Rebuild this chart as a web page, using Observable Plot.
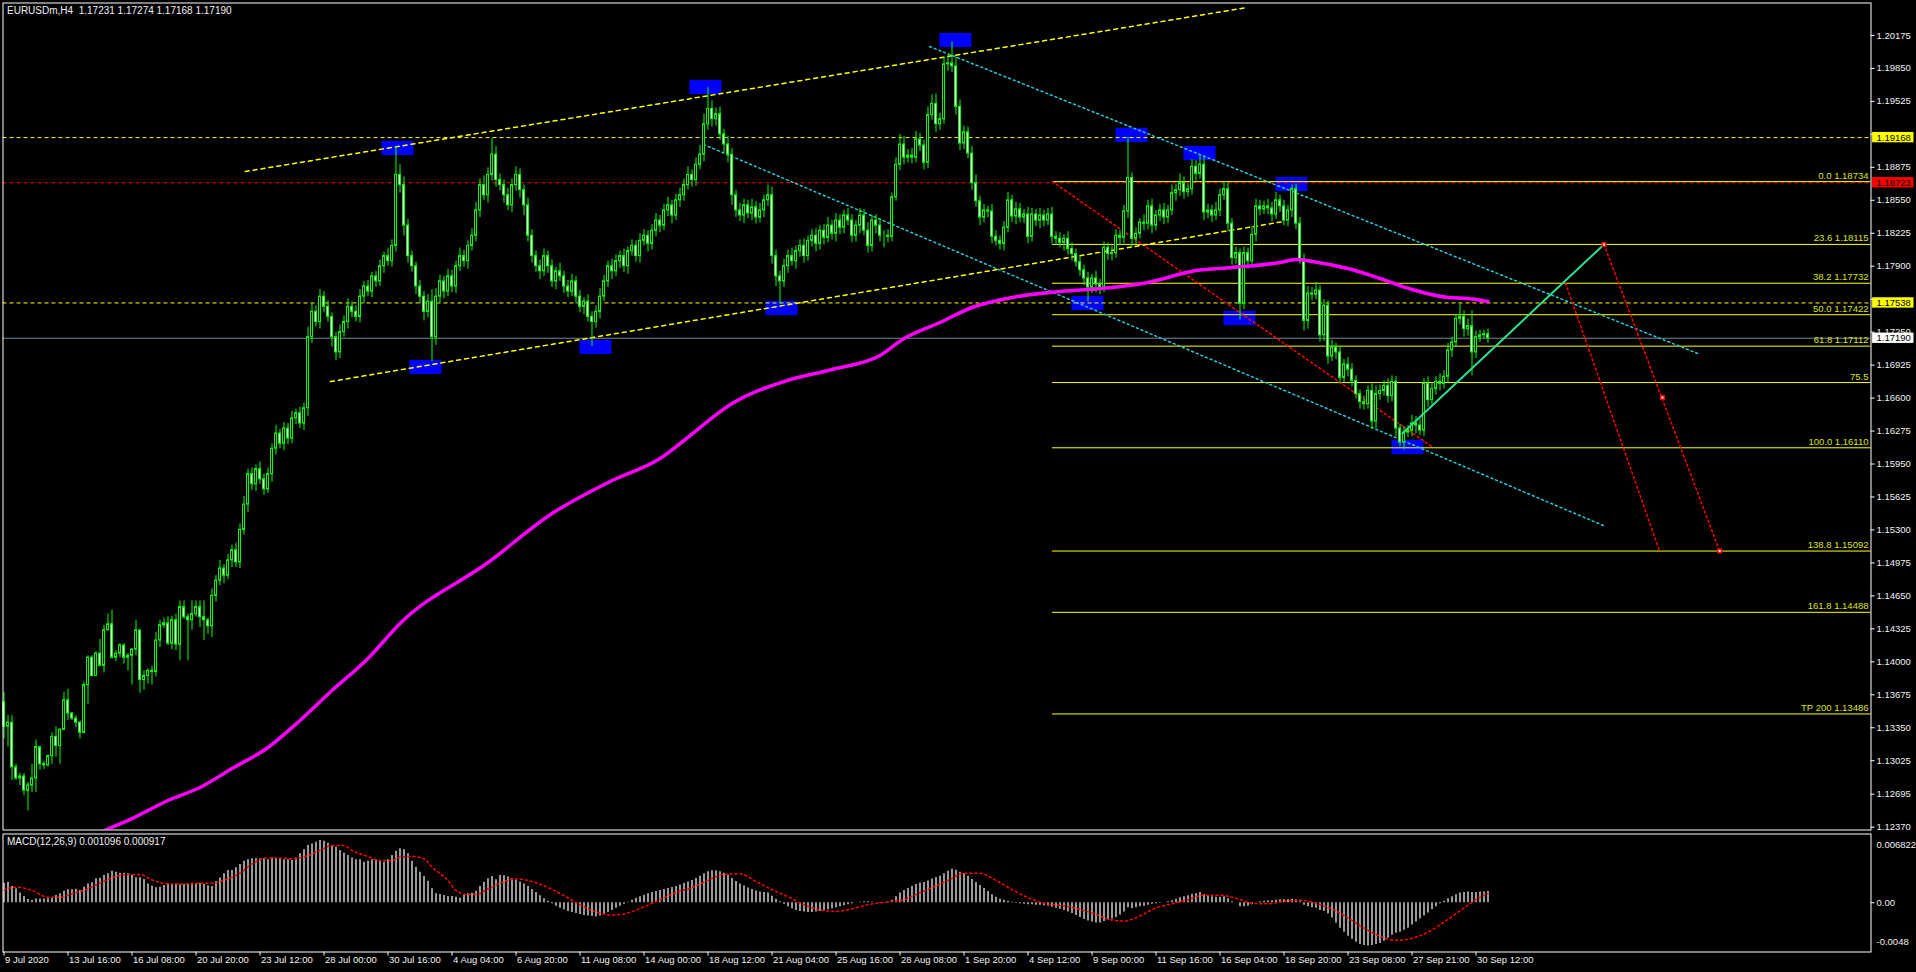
<!DOCTYPE html>
<html><head><meta charset="utf-8">
<script src="https://cdn.jsdelivr.net/npm/d3@7"></script>
<script src="https://cdn.jsdelivr.net/npm/@observablehq/plot@0.6"></script>
<style>
html,body{margin:0;padding:0;background:#000;}
#wrap{position:relative;width:1916px;height:972px;background:#000;overflow:hidden;font-family:"Liberation Sans",Arial,sans-serif;}
#main{position:absolute;left:0;top:0;}
#macd{position:absolute;left:0;top:832px;}
.lbl{position:absolute;color:#f0f0f0;font-size:10px;line-height:11px;white-space:pre;}
</style></head><body>
<div id="wrap"><div id="main"></div><div id="macd"></div>
<div class="lbl" style="left:7px;top:5px">EURUSDm,H4  1.17231 1.17274 1.17168 1.17190</div>
<div class="lbl" style="left:7px;top:836px">MACD(12,26,9) 0.001096 0.000917</div>
</div>
<script>
// ---------- DATA (prices in pips above 1.0000: 1336 -> 1.1336) ----------
const firstOpen = 1360;
const closeP = [
1336,1340,1296,1285,1287,1273,1278,1285,1316,1299,1298,1307,1326,1317,1333,1362,1349,1344,1340,1330,1377,1404,1386,1408,1396,1431,1437,1404,1408,1416,1404,1406,1412,1431,1382,1386,1391,1390,1421,1436,1438,1418,1441,1417,1454,1444,1441,1447,1454,1444,1441,1435,1465,
1480,1492,1485,1500,1510,1498,1530,1555,1585,1575,1590,1580,1570,1585,1610,1625,1615,1630,1620,1640,1645,1635,1650,1720,1745,1735,1760,1750,1740,1720,1705,1725,1735,1750,1745,1740,1760,1770,1765,1780,1775,1790,1800,1795,1810,1880,1870,1830,1800,1790,1770,1760,1745,1755,1720,1760,1775,1765,1780,1770,1790,1800,1795,1810,1820,1845,1870,1860,1880,1900,1875,1870,1860,1850,1870,1880,1865,1850,1820,1800,1790,1785,1800,1790,1775,1785,1780,1770,1765,1775,1760,1750,1755,1740,1735,1745,1760,1775,1790,1785,1795,1800,1790,1805,1810,1800,1815,1820,1812,1825,1835,1830,1845,1850,1840,1855,1860,1870,1880,1875,1890,1900,1930,1945,1935,1940,1920,1910,1900,1860,1845,1840,1850,1842,1848,1838,1845,1855,1860,1800,1780,1775,1790,1800,1795,1805,1810,1800,1815,1820,1812,1825,1818,1830,1822,1835,1828,1840,1835,1820,1830,1840,1825,1810,1835,1830,1820,
1820,1819,1858,1890,1910,1897,1899,1897,1915,1909,
1892,1939,1950,1930,1935,1989,1990,1987,1947,1911,
1922,1901,1872,1854,1838,1845,1844,1819,1815,1812,
1828,1855,1839,1846,1838,1841,1819,1841,1835,1840,
1835,1841,1819,1817,1813,1817,1807,1802,1794,1786,
1778,1769,1778,1772,1769,1808,1802,1803,1820,1818,
1844,1877,1817,1822,1833,1832,1849,1830,1840,1845,
1838,1845,1862,1865,1872,1863,1866,1888,1881,1890,
1843,1845,1840,1845,1860,1866,1832,1798,1803,1753,
1803,1795,1821,1849,1846,1849,1847,1841,1855,1849,
1835,1845,1866,1832,1797,1736,1763,1762,1766,1722,
1751,1701,1710,1705,1680,1693,1688,1677,1664,1656,
1654,1667,1637,1664,1667,1672,1662,1676,1630,1616,
1626,1628,1635,1633,1628,1674,1658,1669,1676,1674,
1681,1707,1715,1738,1740,1728,1731,1705,1720,1722,
1723,1719];
const upWick = [
10,7,7,3,3,3,3,14,7,0,3,1,4,10,1,8,11,1,3,1,3,2,2,2,14,5,10,14,3,2,2,2,1,10,0,5,2,5,8,5,5,6,4,6,6,6,3,13,6,6,16,2,7,
5,8,4,6,5,7,6,8,5,6, 4,7,5,6,5,8,4,6,5,7, 4,6,5,10,8,6,7,5,6,4, 5,7,6,8,5,6,7,5,6,4, 5,6,4,7,6,28,10,8,6,5,
4,6,5,7,12,8,6,5,7,6, 5,8,6,5,7,8,6,9,7,16, 8,6,5,7,6,8,6,5,7,6, 5,6,7,5,6,4,8,5,6,7, 5,6,4,7,5,6,8,6,5,7,
6,5,7,4,6,5,7,6,5,6, 7,5,6,8,5,6,7,6,8,5, 7,9,10,21,8,6,7,5,8,6, 5,7,6,5,8,6,7,5,10,8, 6,5,7,6,8,5,6,7,5,6,
7,5,6,8,5,7,6,5,7,6, 5,7,6,8,5,6,7,
5,6,4,7,10,8,6,7,8,6, 5,8,9,10,6,7,8,21,9,7, 6,5,7,8,5,6,4,7,6,5, 6,8,5,7,6,5,7,6,5,7, 5,6,7,5,6,4,7,6,5,6,
5,6,4,7,5,6,5,7,6,5, 6,40,5,6,4,8,6,7,5,6, 7,5,8,6,9,6,5,7,6,10, 7,6,5,8,6,7,6,5,6,4, 6,5,8,7,6,5,7,6,8,5,
6,5,4,5,6,5,7,6,8,5, 6,5,7,4,6,5,7,6,5,4, 6,5,7,8,6,5,7,6,5,4, 6,5,8,7,6,5,7,6,5,8, 6,7,5,4,13,6,7,15,6,5, 4,5];
const loWick = [
12,20,13,2,7,5,20,7,14,6,4,2,8,11,18,1,7,2,5,6,1,19,1,0,1,7,0,1,4,4,6,13,29,6,13,10,8,13,5,7,3,2,6,6,16,2,40,10,3,10,20,8,11,
6,5,8,4,7,5,6,5,8,6, 7,5,6,4,8,6,5,7,6,5, 6,5,7,8,6,5,7,6,5,10, 8,6,5,7,6,5,6,7,5,6, 6,5,7,5,6,6,8,10,7,6,
8,7,9,6,24,8,6,7,5,6, 7,5,6,8,5,6,7,5,8,6, 7,6,8,5,7,6,8,10,6,7, 6,8,5,7,6,8,5,7,6,5, 7,6,8,5,24,6,7,5,6,8,
5,7,6,8,5,6,7,5,8,6, 6,7,5,6,8,5,7,6,5,7, 6,5,7,6,8,7,6,9,8,10, 7,6,8,5,7,6,5,7,6,8, 10,22,6,7,5,8,6,7,5,6,
8,6,7,5,6,8,7,6,5,7, 6,8,5,7,6,8,6,
12,6,5,4,6,7,5,6,5,6, 7,6,5,8,6,5,7,6,8,7, 6,5,7,6,8,5,6,7,5,6, 7,5,6,8,5,6,7,5,6,8, 6,5,7,6,5,8,6,7,5,6,
7,14,6,8,7,5,6,7,5,8, 6,7,8,6,5,7,6,8,5,6, 7,6,5,8,6,7,5,6,7,5, 8,6,7,5,6,5,8,7,6,16, 6,8,5,7,6,5,6,7,5,6,
5,6,7,6,5,10,8,6,5,7, 6,8,5,7,6,5,7,6,5,7, 6,5,8,7,6,5,7,6,8,4, 7,5,6,8,5,6,7,5,6,7, 5,6,7,5,6,8,7,23,6,5, 4,5];

// MACD main histogram, units of 0.00001
const macdV = [
193,203,160,137,95,62,32,22,36,36,36,39,45,72,88,114,127,127,134,121,154,186,196,236,242,269,285,311,301,291,291,285,269,246,246,229,186,163,147,154,170,186,180,186,177,180,186,193,186,193,180,167,160,
209,245,285,318,318,344,377,410,423,433, 433,433,433,423,442,433,433,423,423,416, 442,482,521,564,580,597,613,606,587,564,
547,514,488,465,442,423,423,400,410,423, 423,410,400,423,465,508,531,521,482,410, 350,301,258,212,137,88,81,71,61,61,
55,45,71,88,94,114,160,203,236,258, 226,268,
265,255,240,225,205,185,160,130,100,70,40,
15,-10,-35,-55,-70,-85,-95,-105,-115,-125,-130,-135,-140,-130,-115,
-95,-75,-55,-35,-15,5,25,45,60,75,90,100,110,120,130,
140,150,160,175,190,205,220,240,260,285,305,315,315,305,290,
270,240,210,185,165,145,130,115,105,100,95,65,35,10,-15,
-40,-60,-75,-85,-90,-95,-95,-90,-85,-80,-70,-60,-50,-40,-30,
-20,-10,0,5,10,10,5,0,-5,
0,5,25,60,95,120,140,160,180,195,200,215,235,250,260,285,310,330,320,300,285,
260,230,200,170,140,110,80,55,35,25,15,5,-5,-10,-15,-20,-20,-25,-25,-30,
-35,-45,-55,-65,-75,-90,-105,-125,-145,-165,-180,-190,-200,-200,-185,
-170,-160,-145,-120,-90,-50,-60,-50,-40,-35,-25,-15,-10,-5,0,
10,20,35,50,60,70,85,90,100,80,70,60,55,55,60,
40,10,0,-40,-40,-35,-20,0,10,15,20,20,25,30,30,
30,35,30,10,-25,-40,-50,-55,-75,-85,
-110,-150,-200,-250,-290,-330,-360,-390,-410,-420,-425,-420,-410,-400,-380,
-350,-320,-300,-290,-270,-250,-220,-190,-160,-130,-100,-70,-40,-10,15,40,60,80,95,100,105,100,100,105,105,110];
// MACD signal line (read at these bars), units of 0.00001
const sigBar = [0,3,7,11,14,17,21,24,27,31,34,37,41,46,49,52,56,59,62,66,70,72,76,79,82,85,87,91,94,97,99,102,105,107,111,113,116,118,121,124,
128,132,136,140,144,148,152,156,160,164,168,172,176,180,184,188,192,196,200,204,208,212,216,220,224,228,232,236,240,244,248,252,256,260,264,268,272,276,280,284,288,292,296,300,304,308,312,316,320,324,328,332,336,340,344,348,352,356,360,364,368,371];
const sigV = [127,154,121,55,55,88,137,193,245,278,278,226,186,186,193,193,236,291,383,442,439,433,465,515,564,564,515,456,416,416,449,456,433,351,219,121,81,81,137,193,
235,210,150,70,-20,-90,-120,-100,-40,30,100,150,220,280,285,210,130,60,-20,-70,-85,-60,-20,5,20,80,150,220,290,290,220,130,50,-5,-25,-55,-100,-160,-180,-130,-50,-10,30,75,75,45,-5,-10,15,25,-5,-60,-150,-250,-330,-370,-350,-290,-190,-80,30,92];

// Moving average (magenta), read at these bars
const maBar = [25,32,41,49,57,66,74,82,91,99,121,137,152,164,170,182,195,207,219,225,234,242,252,264,277,286,298,307,319,323,327,336,344,352,361,366,371];
const maPrice = [1.12337,1.12455,1.12633,1.12761,1.12948,1.13155,1.13422,1.13717,1.14033,1.14378,1.14979,1.15462,1.15787,1.16004,1.16182,1.16547,1.16763,1.16882,1.17020,1.17187,1.17345,1.17493,1.17592,1.17651,1.17690,1.17740,1.17858,1.17887,1.17937,1.17966,1.17947,1.17877,1.17779,1.17670,1.17592,1.17582,1.17552];

// Swing boxes
const boxBars = [98.5,105.5,148,175.5,194.5,238,271,282,299,309,322,351];
const boxPrices = [1.19061,1.16902,1.17099,1.19662,1.17483,1.20125,1.17532,1.19189,1.19011,1.17384,1.18706,1.16113];

// Horizontal levels
const yellowLevels = [1.19168, 1.17538];
const redLevels = [1.18723];
const bidLevels = [1.17190];

// Fibonacci
const fibAnchorBars = [262.1, 357.4];
const fibAnchorPrices = [1.18734, 1.16110];
const fibPrices = [1.18734,1.18115,1.17732,1.17422,1.17112,1.16753,1.16110,1.15092,1.14488,1.13486];
const fibText = ["0.0 1.18734","23.6 1.18115","38.2 1.17732","50.0 1.17422","61.8 1.17112","75.5","100.0 1.16110","138.8 1.15092","161.8 1.14488","TP 200 1.13486"];

// Trend lines
const chanUpBars = [60.3, 310.9], chanUpPrices = [1.18834, 1.20451];
const chanLoBars = [81.6, 319.9], chanLoPrices = [1.16763, 1.18341];
const cyUpBars = [231.4, 423.4], cyUpPrices = [1.20066, 1.17040];
const cyLoBars = [174.9, 400.4], cyLoPrices = [1.19100, 1.15334];
const greenBars = [349.6, 400], greenPrices = [1.16251, 1.18115];
const proj1Bars = [400, 428.9], proj1Prices = [1.18115, 1.15092];
const proj2Bars = [390.4, 413.9], proj2Prices = [1.17732, 1.15092];
const markBars = [400, 414.6, 428.9], markPrices = [1.18115, 1.16606, 1.15092];

// Axes
const priceTicks = [1.20175,1.19850,1.19525,1.19200,1.18875,1.18550,1.18225,1.17900,1.17575,1.17250,1.16925,1.16600,1.16275,1.15950,1.15625,1.15300,1.14975,1.14650,1.14325,1.14000,1.13675,1.13350,1.13025,1.12695,1.12370];
const timeTickBars = [0,16,32,48,64,80,96,112,128,144,160,176,192,208,224,240,256,272,288,304,320,336,352,368];
const timeLabels = ["9 Jul 2020","13 Jul 16:00","16 Jul 08:00","20 Jul 20:00","23 Jul 12:00","28 Jul 00:00","30 Jul 16:00","4 Aug 04:00","6 Aug 20:00","11 Aug 08:00","14 Aug 00:00","18 Aug 12:00","21 Aug 04:00","25 Aug 16:00","28 Aug 08:00","1 Sep 20:00","4 Sep 12:00","9 Sep 00:00","11 Sep 16:00","16 Sep 04:00","18 Sep 20:00","23 Sep 08:00","27 Sep 21:00","30 Sep 12:00"];
const macdAxisTop = 0.006822, macdAxisBottom = -0.0048;

// ---------- BUILD ----------
const W = 1916, X0 = 2.5, XR = 1870.5;
const xDom = [-0.25, (XR - X0) / 4 - 0.25];
const xEnd = xDom[1];
const candles = closeP.map((c, i) => {
  const o = i === 0 ? firstOpen : closeP[i - 1];
  return {i, o: 1 + o / 1e4, c: 1 + c / 1e4,
    h: 1 + (Math.max(o, c) + upWick[i]) / 1e4,
    l: 1 + (Math.min(o, c) - loWick[i]) / 1e4, bull: c >= o};
});
const pts = (bs, ps) => bs.map((b, i) => ({b, p: ps[i]}));
const txt = "#f0f0f0";
const fontStyle = {background: "transparent", fontFamily: "Liberation Sans, Arial, sans-serif", fontSize: "9.5px"};
// tick labels fully hidden behind a price tag are not drawn
const tagged = [...yellowLevels, ...redLevels, ...bidLevels];
const visibleTicks = priceTicks.filter(t => !tagged.some(p => Math.abs(p - t) < 0.0005));

const main = Plot.plot({
  width: W, height: 832, marginLeft: X0, marginRight: W - XR, marginTop: 2.5, marginBottom: 2.5,
  x: {domain: xDom, axis: null},
  y: {domain: [1.12342, 1.20495], axis: null},
  style: fontStyle,
  marks: [
    Plot.rect(pts(boxBars, boxPrices), {x1: d => d.b - 4, x2: d => d.b + 4, y1: d => d.p - 0.0007, y2: d => d.p + 0.0007, fill: "#0000ff"}),
    Plot.ruleY(yellowLevels, {stroke: "#ffff00", strokeDasharray: "4,3"}),
    Plot.ruleY(redLevels, {stroke: "#ff0000", strokeDasharray: "4,3"}),
    Plot.ruleY(bidLevels, {stroke: "#778899"}),
    Plot.ruleY(fibPrices, {x1: fibAnchorBars[0], x2: xEnd, stroke: "#ffff00"}),
    Plot.text(fibPrices, {x: xEnd, y: d => d, text: (d, i) => fibText[i], textAnchor: "end", dx: -2.5, dy: -6, fill: "#dde21b"}),
    Plot.line(pts(fibAnchorBars, fibAnchorPrices), {x: "b", y: "p", stroke: "#ff0000", strokeDasharray: "2,3"}),
    Plot.line(pts(chanUpBars, chanUpPrices), {x: "b", y: "p", stroke: "#ffff00", strokeDasharray: "4,4"}),
    Plot.line(pts(chanLoBars, chanLoPrices), {x: "b", y: "p", stroke: "#ffff00", strokeDasharray: "4,4"}),
    Plot.line(pts(cyUpBars, cyUpPrices), {x: "b", y: "p", stroke: "#2bc6d8", strokeDasharray: "2,3"}),
    Plot.line(pts(cyLoBars, cyLoPrices), {x: "b", y: "p", stroke: "#2bc6d8", strokeDasharray: "2,3"}),
    Plot.ruleX(candles, {x: "i", y1: "l", y2: "h", stroke: "#00ff00"}),
    Plot.rect(candles, {filter: d => d.bull, x1: d => d.i - 0.25, x2: d => d.i + 0.25, y1: "o", y2: "c", fill: "#000", stroke: "#00ff00"}),
    Plot.rect(candles, {filter: d => !d.bull, x1: d => d.i - 0.25, x2: d => d.i + 0.25, y1: "o", y2: "c", fill: "#fff", stroke: "#00ff00"}),
    Plot.line(pts(maBar, maPrice), {x: "b", y: "p", stroke: "#ff00ff", strokeWidth: 3.5, curve: "monotone-x", clip: true}),
    Plot.line(pts(proj1Bars, proj1Prices), {x: "b", y: "p", stroke: "#ff0000", strokeDasharray: "2,3"}),
    Plot.line(pts(proj2Bars, proj2Prices), {x: "b", y: "p", stroke: "#ff0000", strokeDasharray: "2,3"}),
    Plot.line(pts(greenBars, greenPrices), {x: "b", y: "p", stroke: "#2de08f", strokeWidth: 2}),
    Plot.dot(pts(markBars, markPrices), {x: "b", y: "p", symbol: "square", r: 2, fill: "#fff", stroke: "#ff0000"}),
    Plot.frame({stroke: "#fff"}),
    Plot.ruleY(priceTicks, {x1: xEnd, x2: xEnd + 1, stroke: "#fff"}),
    Plot.text(visibleTicks, {x: xEnd, y: d => d, text: d => d.toFixed(5), textAnchor: "start", dx: 5.5, fill: txt}),
    Plot.rect(yellowLevels, {x1: xEnd + 0.4, x2: xEnd + 10.75, y1: d => d - 0.00051, y2: d => d + 0.00051, fill: "#ffff00"}),
    Plot.rect(redLevels, {x1: xEnd + 0.4, x2: xEnd + 10.75, y1: d => d - 0.00051, y2: d => d + 0.00051, fill: "#ff0000"}),
    Plot.rect(bidLevels, {x1: xEnd + 0.4, x2: xEnd + 10.75, y1: d => d - 0.00051, y2: d => d + 0.00051, fill: "#ffffff"}),
    Plot.text(tagged, {x: xEnd, y: d => d, text: d => d.toFixed(5), textAnchor: "start", dx: 5.5, fill: "#000"})
  ]
});
document.getElementById("main").appendChild(main);

const macdTable = macdV.map((v, i) => ({i, v: v / 1e5}));
const sigTable = sigBar.map((b, i) => ({b, p: sigV[i] / 1e5}));
const mBottom = -0.004849;
const macdPlot = Plot.plot({
  width: W, height: 140, marginLeft: X0, marginRight: W - XR, marginTop: 1.5, marginBottom: 20.5,
  x: {domain: xDom, axis: null},
  y: {domain: [mBottom, 0.006773], axis: null},
  style: fontStyle,
  marks: [
    Plot.ruleX(macdTable, {x: "i", y1: 0, y2: "v", stroke: "#c0c0c0", strokeWidth: 1.6}),
    Plot.line(sigTable, {x: "b", y: "p", stroke: "#ff0000", strokeDasharray: "2,3", curve: "monotone-x"}),
    Plot.frame({stroke: "#fff"}),
    Plot.ruleY([0], {x1: xEnd, x2: xEnd + 1, stroke: "#fff"}),
    Plot.text([0], {x: xEnd, y: d => d, text: () => "0.00", textAnchor: "start", dx: 5.5, fill: txt}),
    Plot.text([macdAxisTop], {frameAnchor: "top-right", text: d => String(d), textAnchor: "start", dx: 5.5, dy: 7, fill: txt}),
    Plot.text([macdAxisBottom], {frameAnchor: "bottom-right", text: d => String(d), textAnchor: "start", dx: 5.5, dy: -7.5, fill: txt}),
    Plot.ruleX(timeTickBars, {x: d => d, y1: mBottom, y2: mBottom - 4 / 10153, stroke: "#fff"}),
    Plot.text(timeTickBars, {x: d => d, frameAnchor: "bottom", text: (d, i) => timeLabels[i], textAnchor: "start", dx: 1, dy: 11, fill: txt})
  ]
});
document.getElementById("macd").appendChild(macdPlot);
</script></body></html>
